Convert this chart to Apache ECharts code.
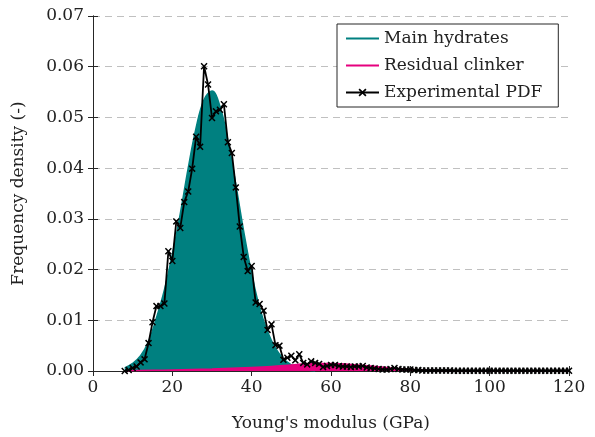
<!DOCTYPE html>
<html>
<head>
<meta charset="utf-8">
<script src="https://cdn.jsdelivr.net/npm/echarts@6/dist/echarts.min.js"></script>
<style>
  html, body { margin: 0; padding: 0; background: #fff; }
  #chart { width: 595px; height: 437px; }
</style>
</head>
<body>
<div id="chart"></div>
<script>
// main hydrates fitted curve
const hydX = [8, 10, 12, 14, 16, 18, 20, 22, 24, 26, 28, 30, 32, 34, 36, 38, 40, 42, 44, 46, 48, 50, 52, 54, 56];
const hydY = [0.0006, 0.0015, 0.0030, 0.0058, 0.0105, 0.0160, 0.0230, 0.0310, 0.0400, 0.0480, 0.0535, 0.0552, 0.0522,
              0.0455, 0.0368, 0.0275, 0.0192, 0.0125, 0.0078, 0.0045, 0.0024, 0.0012, 0.0005, 0.0002, 0];

// residual clinker fitted curve
const clkX = [8, 10, 20, 30, 40, 45, 50, 55, 60, 65, 70, 75, 80, 85, 90, 120];
const clkY = [0, 0.0001, 0.0002, 0.0004, 0.0007, 0.0009, 0.0012, 0.0015, 0.0015, 0.0013, 0.0010, 0.0006, 0.0003, 0.0001, 0, 0];

// experimental PDF
const expX = [8, 9, 10, 11, 12, 13, 14, 15, 16, 17, 18, 19, 20, 21, 22, 23, 24, 25, 26, 27, 28, 29, 30, 31, 32, 33, 34, 35,
              36, 37, 38, 39, 40, 41, 42, 43, 44, 45, 46, 47, 48, 49, 50, 51, 52, 53, 54, 55, 56, 57, 58, 59, 60, 61, 62, 63,
              64, 65, 66, 67, 68, 69, 70, 71, 72, 73, 74, 75, 76, 77, 78, 79, 80, 81, 82, 83, 84, 85, 86, 87, 88, 89, 90, 91,
              92, 93, 94, 95, 96, 97, 98, 99, 100, 101, 102, 103, 104, 105, 106, 107, 108, 109, 110, 111, 112, 113, 114, 115,
              116, 117, 118, 119, 120];
const expY = [0, 0.0002, 0.0006, 0.0009, 0.0017, 0.0023, 0.0055, 0.0096, 0.0128, 0.0128, 0.0133, 0.0236, 0.0217, 0.0295,
              0.0282, 0.0333, 0.0354, 0.0399, 0.0462, 0.0442, 0.0601, 0.0565, 0.0499, 0.0512, 0.0515, 0.0526, 0.0451, 0.0430,
              0.0362, 0.0285, 0.0225, 0.0197, 0.0207, 0.0135, 0.0132, 0.0119, 0.0081, 0.0092, 0.0051, 0.0050, 0.0022, 0.0026,
              0.0030, 0.0021, 0.0033, 0.0016, 0.0013, 0.0019, 0.0016, 0.0014, 0.0008, 0.0010, 0.0012, 0.0012, 0.0010, 0.0009,
              0.0009, 0.0008, 0.0009, 0.0009, 0.0010, 0.0007, 0.0006, 0.0005, 0.0004, 0.0003, 0.0003, 0.0004, 0.0006, 0.0004,
              0.0003, 0.0003, 0.0003, 0.0002, 0.0002, 0.0001, 0.0001, 0.0001, 0.0001, 0.0001, 0.0001, 0.0001, 0.0001, 0.00005,
              0.00005, 0.00005, 0.00005, 0.00005, 0.00005, 0.00005, 0.00005, 0.00005, 0.00005, 0.00005, 0.00005, 0.00005,
              0.00005, 0.00005, 0.00005, 0.00005, 0.00005, 0.00005, 0.00005, 0.00005, 0.00005, 0.00005, 0.00005, 0.00005,
              0.00005, 0.00005, 0.00005, 0.00005, 0.00005];

const xTicks = [0, 20, 40, 60, 80, 100, 120];
const yTicks = [0, 0.01, 0.02, 0.03, 0.04, 0.05, 0.06, 0.07];

const pairs = (xs, ys) => xs.map((x, i) => [x, ys[i]]);

const FONT = 'DejaVu Serif';
const FS = 17;
const TEAL = '#008080';
const MAGENTA = '#e6007e';
const AXIS = '#262626';
// "x" marker as a filled cross
const cross = 'path://M0,1.5L1.5,0L5,3.5L8.5,0L10,1.5L6.5,5L10,8.5L8.5,10L5,6.5L1.5,10L0,8.5L3.5,5Z';

const chart = echarts.init(document.getElementById('chart'), null, { renderer: 'canvas' });

const boxAxis = {
  axisLine: { show: true, lineStyle: { color: AXIS, width: 1 } },
  axisTick: { show: true, inside: true, length: 5, lineStyle: { color: AXIS } },
  splitLine: { show: false },
};

const option = {
  animation: false,
  backgroundColor: '#fff',
  textStyle: { fontFamily: FONT },
  grid: { left: 93, right: 26, top: 16, bottom: 59 },
  legend: {
    orient: 'vertical',
    left: 337,
    top: 24,
    padding: [4, 16, 4, 8],
    itemGap: 6,
    itemWidth: 33,
    itemHeight: 10,
    backgroundColor: '#fff',
    borderColor: AXIS,
    borderWidth: 1,
    borderRadius: 0,
    textStyle: { fontFamily: FONT, fontSize: FS, color: '#222', lineHeight: 21 },
    data: [
      // hide the default circle, keep only the line
      { name: 'Main hydrates', itemStyle: { opacity: 0 }, lineStyle: { width: 2 } },
      { name: 'Residual clinker', itemStyle: { opacity: 0 }, lineStyle: { width: 2 } },
      { name: 'Experimental PDF', lineStyle: { width: 2 } },
    ],
  },
  xAxis: [
    Object.assign({
      type: 'value', min: 0, max: 120, interval: 20,
      name: "Young's modulus (GPa)", nameLocation: 'middle', nameGap: 44,
      nameTextStyle: { fontFamily: FONT, fontSize: FS, color: '#222' },
      axisLabel: { fontFamily: FONT, fontSize: FS, color: '#222', margin: 8 },
    }, boxAxis),
    Object.assign({
      type: 'value', min: 0, max: 120, interval: 20, position: 'top',
      axisLabel: { show: false },
    }, boxAxis),
  ],
  yAxis: [
    Object.assign({
      type: 'value', min: 0, max: 0.07, interval: 0.01,
      name: 'Frequency density (-)', nameLocation: 'middle', nameGap: 66,
      nameTextStyle: { fontFamily: FONT, fontSize: FS, color: '#222' },
      axisLabel: { fontFamily: FONT, fontSize: FS, color: '#222', margin: 9,
        formatter: v => v.toFixed(2) },
    }, boxAxis, {
      splitLine: { show: true, lineStyle: { color: '#c0c0c0', type: [7, 5], width: 1 } },
    }),
    Object.assign({
      type: 'value', min: 0, max: 0.07, interval: 0.01, position: 'right',
      axisLabel: { show: false },
    }, boxAxis),
  ],
  series: [
    {
      name: 'Main hydrates',
      type: 'line',
      smooth: 0.4,
      showSymbol: false,
      symbol: 'none',
      lineStyle: { width: 1.5, color: TEAL },
      itemStyle: { color: TEAL },
      areaStyle: { color: TEAL, opacity: 1 },
      data: pairs(hydX, hydY),
      z: 2,
    },
    {
      name: 'Residual clinker',
      type: 'line',
      smooth: 0.4,
      showSymbol: false,
      symbol: 'none',
      lineStyle: { width: 1.5, color: MAGENTA },
      itemStyle: { color: MAGENTA },
      areaStyle: { color: MAGENTA, opacity: 1 },
      data: pairs(clkX, clkY),
      z: 3,
    },
    {
      name: 'Experimental PDF',
      type: 'line',
      symbol: cross,
      symbolSize: 7,
      showAllSymbol: true,
      lineStyle: { width: 1.8, color: '#000' },
      itemStyle: { color: '#000' },
      data: pairs(expX, expY),
      z: 4,
    },
  ],
};

chart.setOption(option);
</script>
</body>
</html>
